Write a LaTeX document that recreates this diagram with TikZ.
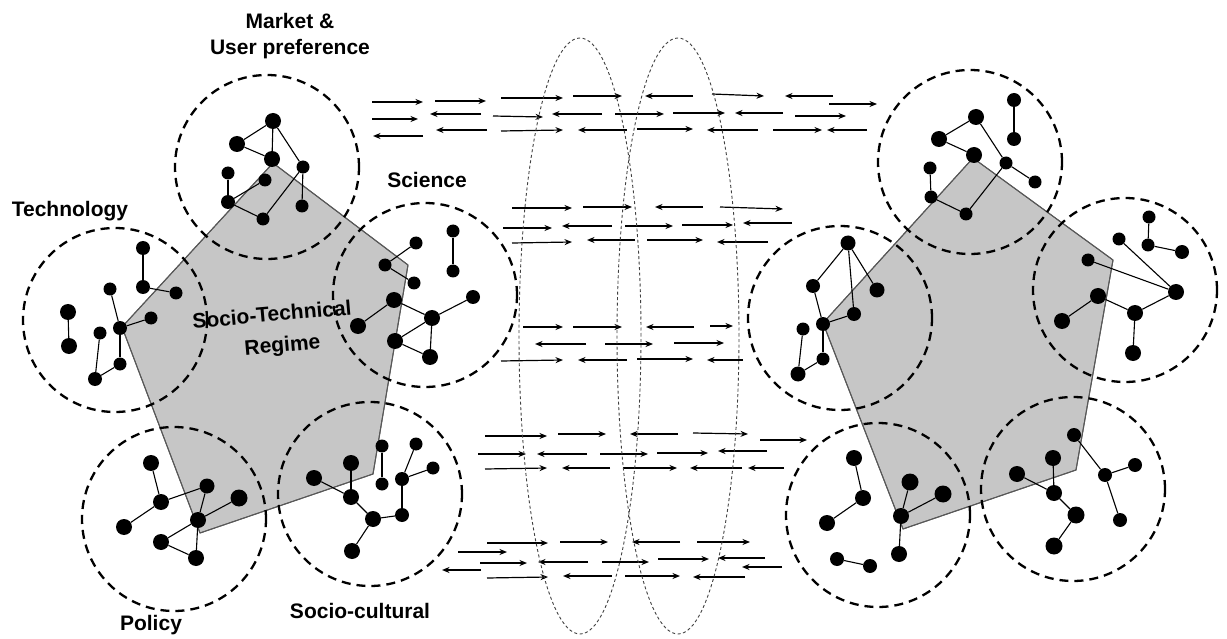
\documentclass[tikz,border=0pt]{standalone}
\usepackage{fontspec}
\setmainfont{Liberation Sans}
\usetikzlibrary{arrows.meta}
\definecolor{regimegray}{HTML}{C6C6C6}
\definecolor{regimeedge}{HTML}{585858}
\begin{document}
\begin{tikzpicture}[x=1pt,y=-1pt,
  blob/.style={circle,fill=black,inner sep=0pt,minimum size=#1},
  blob/.default=14pt,
  wire/.style={line width=1.1pt,black},
  zone/.style={line width=2.3pt,dash pattern=on 9pt off 6pt},
  regime/.style={fill=regimegray,draw=regimeedge,line width=1pt,line join=round},
  horizon/.style={line width=0.9pt,dash pattern=on 3pt off 2.5pt,draw=black!75},
  flow/.style={line width=1.2pt,-{Stealth[length=7.5pt,width=6pt]}},
  lbl/.style={font=\fontsize{21}{26}\selectfont\bfseries,align=center,inner sep=1pt},
  slanted/.style={font=\fontsize{21}{26}\selectfont\bfseries,inner sep=0pt,anchor=base,rotate=5}]
\useasboundingbox (0,0) rectangle (1227,639);

% regime pentagons
\fill[regime] (273,163) -- (408,265) -- (373,474) -- (200,533) -- (122,327) -- cycle;
\fill[regime] (973,158) -- (1113,260) -- (1076,470) -- (903,529) -- (823,323) -- cycle;
\draw[regime,fill=none] (273,163) -- (408,265) -- (373,474) -- (200,533) -- (122,327) -- cycle;
\draw[regime,fill=none] (973,158) -- (1113,260) -- (1076,470) -- (903,529) -- (823,323) -- cycle;

% niche circles
\foreach \cx/\cy in {267/167,115/320,425/295,174/519,370/494,
                     970/162,840/318,1125/290,878/515,1073/489}
  \draw[zone] (\cx,\cy) circle [radius=92pt];

% exchange arrows
\foreach \xa/\ya/\xb/\yb in {
  372/102/423/102, 435/101/486/101, 501/98/563/98, 573/96/622/96,
  693/96/645/96, 712/94/764/96, 833/96/785/96, 829/104/877/104,
  372/119/418/119, 481/114/430/114, 493/116/543/117, 602/114/552/114,
  615/114/664/114, 673/113/725/113, 783/113/735/113, 795/116/846/116,
  423/136/373/136, 487/130/436/130, 501/131/563/130, 627/130/578/130,
  637/129/693/129, 758/130/707/130, 773/130/822/130, 867/130/827/130,
  512/208/572/208, 583/207/632/207, 703/207/655/207, 720/207/783/209,
  503/228/552/228, 612/226/562/226, 625/226/673/226, 682/225/733/225,
  792/223/743/223, 512/243/572/242, 635/240/587/240, 647/240/703/240,
  768/242/717/242,
  523/327/563/327, 573/327/622/327, 694/327/646/327, 710/326/733/326,
  586/344/535/344, 605/344/653/344, 674/343/724/343,
  501/361/563/360, 627/360/578/360, 637/359/693/359, 743/360/707/360,
  485/436/547/436, 558/434/606/434, 678/434/630/434, 693/433/748/434,
  760/440/807/440, 478/454/526/454, 587/454/537/454, 600/454/648/454,
  657/453/708/453, 767/451/718/451, 485/469/547/468, 610/468/562/468,
  623/468/677/468, 742/468/690/468, 784/468/748/468,
  487/543/548/543, 560/542/608/542, 680/542/632/542, 697/542/750/542,
  458/552/507/552, 480/563/527/563, 588/562/538/562, 602/562/649/562,
  658/559/709/559, 765/558/718/558, 782/567/742/567, 481/570/442/570,
  487/578/548/577, 612/576/563/576, 625/576/680/576, 745/577/693/577}
  \draw[flow] (\xa,\ya) -- (\xb,\yb);

% transition windows
\draw[horizon] (580,336) ellipse [x radius=61pt, y radius=298pt];
\draw[horizon] (678,336) ellipse [x radius=61pt, y radius=298pt];

% left: market & user preference
\foreach \n/\x/\y/\s in {lm1/273/121/16,lm2/237/144/16,lm3/272/159/16,lm4/303/167/13,
  lm5/228/173/13,lm6/265/180/13,lm7/228/202/14,lm8/302/206/13,lm9/263/219/13}
  \node[blob=\s pt] (\n) at (\x,\y) {};
% left: technology
\foreach \n/\x/\y/\s in {lt1/143/248/14,lt2/143/287/14,lt3/176/293/13,lt4/110/289/13,
  lt5/68/312/16,lt6/69/346/16,lt7/151/318/13,lt8/120/328/14,lt9/100/333/13,
  lt10/120/364/13,lt11/95/379/14}
  \node[blob=\s pt] (\n) at (\x,\y) {};
% left: science
\foreach \n/\x/\y/\s in {ls1/453/231/13,ls2/453/271/13,ls3/416/243/13,ls4/385/265/13,
  ls5/414/283/13,ls6/473/297/14,ls7/394/300/16,ls8/432/318/16,ls9/358/326/16,
  ls10/395/341/16,ls11/430/357/16}
  \node[blob=\s pt] (\n) at (\x,\y) {};
% left: policy
\foreach \n/\x/\y/\s in {lp1/151/463/16,lp2/207/486/15,lp3/239/498/17,lp4/161/502/16,
  lp5/124/527/16,lp6/198/520/16,lp7/161/542/16,lp8/196/558/16}
  \node[blob=\s pt] (\n) at (\x,\y) {};
% left: socio-cultural
\foreach \n/\x/\y/\s in {lc1/382/446/13,lc2/416/444/13,lc3/351/463/16,lc4/433/468/13,
  lc5/314/478/16,lc6/382/484/13,lc7/402/479/14,lc8/351/497/16,lc9/402/515/14,
  lc10/373/519/16,lc11/352/551/16}
  \node[blob=\s pt] (\n) at (\x,\y) {};

% right: market
\foreach \n/\x/\y/\s in {rm1/1014/100/14,rm2/1014/139/14,rm3/976/117/16,rm4/939/139/16,
  rm5/974/155/16,rm6/1006/163/13,rm7/1035/182/13,rm8/930/168/13,rm9/931/197/13,
  rm10/966/214/13}
  \node[blob=\s pt] (\n) at (\x,\y) {};
% right: technology
\foreach \n/\x/\y/\s in {rt1/848/243/15,rt2/813/286/14,rt3/877/290/15,rt4/854/314/14,
  rt5/823/324/14,rt6/803/329/13,rt7/823/359/13,rt8/798/374/15}
  \node[blob=\s pt] (\n) at (\x,\y) {};
% right: science
\foreach \n/\x/\y/\s in {rs1/1149/217/13,rs2/1148/245/13,rs3/1182/252/14,rs4/1119/239/13,
  rs5/1088/260/13,rs6/1176/292/16,rs7/1098/296/16,rs8/1135/313/16,rs9/1062/321/16,
  rs10/1133/353/16}
  \node[blob=\s pt] (\n) at (\x,\y) {};
% right: policy
\foreach \n/\x/\y/\s in {rp1/854/458/16,rp2/910/482/17,rp3/943/494/17,rp4/863/498/16,
  rp5/827/523/16,rp6/901/516/16,rp7/899/554/16,rp8/837/559/14,rp9/870/566/14}
  \node[blob=\s pt] (\n) at (\x,\y) {};
% right: socio-cultural
\foreach \n/\x/\y/\s in {rc1/1074/435/14,rc2/1053/458/16,rc3/1135/465/14,rc4/1017/474/16,
  rc5/1105/475/14,rc6/1054/493/16,rc7/1076/515/17,rc8/1120/520/14,rc9/1054/546/17}
  \node[blob=\s pt] (\n) at (\x,\y) {};

% actor links
\foreach \a/\b in {lm2/lm1,lm2/lm3,lm1/lm3,lm1/lm4,lm4/lm8,lm5/lm7,lm7/lm6,lm7/lm9,lm9/lm4,
  lt1/lt2,lt2/lt3,lt5/lt6,lt4/lt8,lt8/lt7,lt8/lt10,lt10/lt11,lt11/lt9,
  ls1/ls2,ls3/ls4,ls4/ls5,ls7/ls9,ls7/ls8,ls8/ls6,ls8/ls10,ls10/ls11,ls8/ls11,
  lp1/lp4,lp4/lp2,lp4/lp5,lp6/lp2,lp6/lp3,lp6/lp7,lp6/lp8,lp7/lp8,
  lc1/lc6,lc2/lc7,lc7/lc4,lc7/lc9,lc9/lc10,lc3/lc8,lc5/lc8,lc8/lc10,lc10/lc11,
  rm1/rm2,rm3/rm4,rm4/rm5,rm3/rm6,rm6/rm7,rm6/rm10,rm8/rm9,rm9/rm10,
  rt1/rt2,rt1/rt3,rt1/rt4,rt2/rt5,rt5/rt4,rt5/rt7,rt7/rt8,rt8/rt6,
  rs1/rs2,rs2/rs3,rs4/rs6,rs5/rs6,rs6/rs8,rs8/rs7,rs7/rs9,rs8/rs10,
  rp1/rp4,rp4/rp5,rp6/rp2,rp6/rp3,rp6/rp7,rp8/rp9,
  rc1/rc5,rc5/rc3,rc5/rc8,rc2/rc6,rc4/rc6,rc6/rc7,rc7/rc9}
  \draw[wire] (\a) -- (\b);

% labels
\node[lbl] (lmarket) at (290,36) {Market \&\\User preference};
\node[lbl] (ltech) at (70,211) {Technology};
\node[lbl] (lsci) at (427,180) {Science};
\node[slanted] (lregime1) at (272.5,321.5) {Socio-Technical};
\node[slanted] (lregime2) at (283,352) {Regime};
\node[lbl] (lpolicy) at (151,625) {Policy};
\node[lbl] (lsoc) at (360,611) {Socio-cultural};
\end{tikzpicture}
\end{document}
